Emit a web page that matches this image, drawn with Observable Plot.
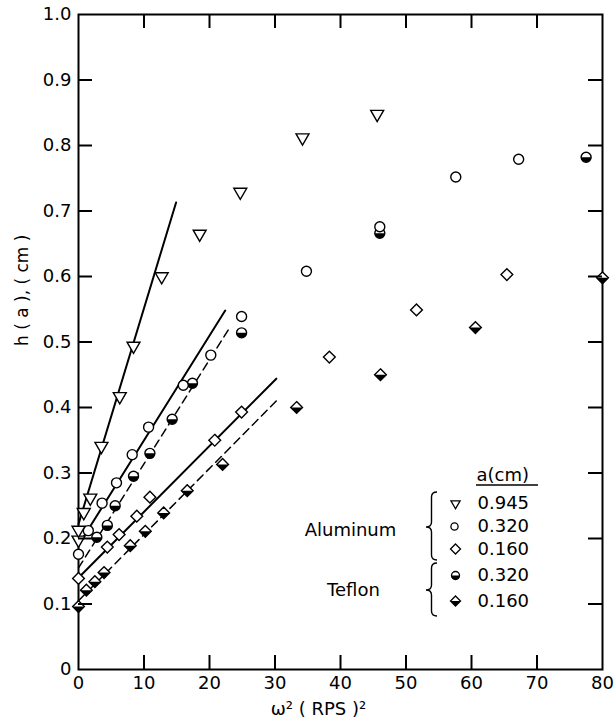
<!DOCTYPE html>
<html><head><meta charset="utf-8">
<script src="https://cdn.jsdelivr.net/npm/d3@7"></script>
<script src="https://cdn.jsdelivr.net/npm/@observablehq/plot@0.6"></script>
<style>body{margin:0;background:#fff}</style>
</head><body><div id="chart"></div>
<script>
// ---- tick values / labels ----
const xTicks = [0, 10, 20, 30, 40, 50, 60, 70, 80];
const yTicks = [0, 0.1, 0.2, 0.3, 0.4, 0.5, 0.6, 0.7, 0.8, 0.9, 1.0];
const yTickLabels = ["0", "0.1", "0.2", "0.3", "0.4", "0.5", "0.6", "0.7", "0.8", "0.9", "1.0"];
const xTitle = "ω² ( RPS )²";
const yTitle = "h ( a ), ( cm )";

// ---- data: Aluminum ----
const al945X = [0, 0, 0.8, 1.8, 3.5, 6.3, 8.4, 12.7, 18.5, 24.7, 34.2, 45.6];
const al945Y = [0.198, 0.213, 0.24, 0.262, 0.341, 0.417, 0.494, 0.600, 0.665, 0.729, 0.812, 0.848];
const al320X = [0, 1.5, 3.6, 5.8, 8.2, 10.7, 16.0, 20.2, 24.9, 34.8, 46.0, 57.6, 67.2];
const al320Y = [0.176, 0.212, 0.254, 0.285, 0.328, 0.370, 0.434, 0.480, 0.539, 0.608, 0.676, 0.752, 0.779];
const al160X = [0, 4.4, 6.2, 8.9, 10.9, 20.8, 24.9, 38.3, 51.6, 65.4];
const al160Y = [0.139, 0.187, 0.206, 0.234, 0.263, 0.350, 0.393, 0.477, 0.549, 0.603];
// ---- data: Teflon ----
const tef320X = [2.8, 4.4, 5.6, 8.4, 10.9, 14.3, 17.4, 24.9, 46.0, 77.5];
const tef320Y = [0.202, 0.220, 0.250, 0.295, 0.330, 0.382, 0.437, 0.514, 0.666, 0.782];
const tef160X = [0, 1.2, 2.5, 3.9, 7.9, 10.2, 13.0, 16.6, 22.0, 33.3, 46.1, 60.6, 80];
const tef160Y = [0.096, 0.121, 0.134, 0.148, 0.189, 0.211, 0.239, 0.273, 0.313, 0.400, 0.450, 0.522, 0.598];

// ---- fitted lines (endpoints) ----
const fitAl945X = [0, 14.9],  fitAl945Y = [0.222, 0.713];
const fitAl320X = [0, 22.4],  fitAl320Y = [0.190, 0.548];
const fitTef320X = [0, 22.9], fitTef320Y = [0.155, 0.519];
const fitAl160X = [0, 30.2],  fitAl160Y = [0.140, 0.444];
const fitTef160X = [0, 30.2], fitTef160Y = [0.105, 0.410];

// ---- legend ----
const legendTitle = "a(cm)";
const legendValues = ["0.945", "0.320", "0.160", "0.320", "0.160"];
const materials = ["Aluminum", "Teflon"];

const zip = (xs, ys) => xs.map((x, i) => ({x, y: ys[i]}));

const halfCircle = {draw(ctx, size) { const r = Math.sqrt(size / Math.PI); ctx.moveTo(r, 0); ctx.arc(0, 0, r, 0, Math.PI); ctx.closePath(); }};
const halfDiamond = {draw(ctx, size) { const r = Math.sqrt(size) * 0.62625; ctx.moveTo(-r, 0); ctx.lineTo(r, 0); ctx.lineTo(0, r); ctx.closePath(); }};

const W = 614, H = 727, mL = 78, mR = 12, mT = 14, mB = 58;
const pw = W - mL - mR, ph = H - mT - mB;
const tk = 14;
const FONT = "DejaVu Sans";
const FS = 18;
const tyLen = tk / ph;        // tick length in y data units
const txLen = tk / pw * 80;   // tick length in x data units
const innerX = xTicks.slice(1, -1), innerY = yTicks.slice(1, -1);

const triangleDown = (data, r) => Plot.dot(data, {x: "x", y: "y", symbol: "triangle", rotate: 180, r, fill: "white", stroke: "black", strokeWidth: 1.4});
const openCircle = (data, r) => Plot.dot(data, {x: "x", y: "y", symbol: "circle", r, fill: "white", stroke: "black", strokeWidth: 1.4});
const openDiamond = (data, r) => Plot.dot(data, {x: "x", y: "y", symbol: "diamond2", r, fill: "white", stroke: "black", strokeWidth: 1.4});
const halfC = (data, r) => Plot.dot(data, {x: "x", y: "y", symbol: halfCircle, r, fill: "black", stroke: "none"});
const halfD = (data, r) => Plot.dot(data, {x: "x", y: "y", symbol: halfDiamond, r, fill: "black", stroke: "none"});

// legend rows positioned in px relative to the frame's top-left corner
const legRowsDy = [489, 512, 534.5, 561, 586.5];
const legSymDx = 377, legTextDx = 399;
const legText = (t, dx, dy, anchor) => Plot.text([t], {frameAnchor: "top-left", lineAnchor: "middle", dx, dy, textAnchor: anchor, fontSize: FS});

function braces() {
  const g = d3.create("svg:g").attr("fill", "none").attr("stroke", "black").attr("stroke-width", 1.4);
  const brace = (xr, xt, y0, ym, y1) => {
    const xm = (xr + xt) / 2, r = 5;
    return `M${xr},${y0} Q${xm},${y0} ${xm},${y0 + r} L${xm},${ym - r} Q${xm},${ym} ${xt},${ym} Q${xm},${ym} ${xm},${ym + r} L${xm},${y1 - r} Q${xm},${y1} ${xr},${y1}`;
  };
  g.append("path").attr("d", brace(437, 426, 492, 527, 560));
  g.append("path").attr("d", brace(437, 426, 563, 590, 616));
  g.append("line").attr("x1", 476).attr("x2", 538).attr("y1", 485).attr("y2", 485).attr("stroke-width", 1.3);
  return g.node();
}

const chart = Plot.plot({
  width: W, height: H,
  marginLeft: mL, marginRight: mR, marginTop: mT, marginBottom: mB,
  x: {domain: [0, 80], ticks: xTicks, tickSize: 0, tickPadding: 7, label: null},
  y: {domain: [0, 1], ticks: yTicks, tickSize: 0, tickPadding: 7, label: null, tickFormat: d => yTickLabels[yTicks.indexOf(d)] ?? String(d)},
  style: {fontFamily: FONT, fontSize: FS + "px", background: "white"},
  marks: [
    Plot.frame({stroke: "black", fill: "none", strokeWidth: 2}),
    Plot.text([xTitle], {frameAnchor: "bottom", lineAnchor: "middle", dx: -22, dy: 40, fontSize: FS}),
    Plot.text([yTitle], {frameAnchor: "left", lineAnchor: "middle", rotate: -90, dx: -56, dy: 4, fontSize: 17}),
    // fitted lines
    Plot.line(zip(fitAl945X, fitAl945Y), {x: "x", y: "y", stroke: "black", strokeWidth: 2}),
    Plot.line(zip(fitAl320X, fitAl320Y), {x: "x", y: "y", stroke: "black", strokeWidth: 2}),
    Plot.line(zip(fitAl160X, fitAl160Y), {x: "x", y: "y", stroke: "black", strokeWidth: 2}),
    Plot.line(zip(fitTef320X, fitTef320Y), {x: "x", y: "y", stroke: "black", strokeWidth: 1.5, strokeDasharray: "8,5"}),
    Plot.line(zip(fitTef160X, fitTef160Y), {x: "x", y: "y", stroke: "black", strokeWidth: 1.5, strokeDasharray: "8,5"}),
    // points
    openDiamond(zip(tef160X, tef160Y), 5.3), halfD(zip(tef160X, tef160Y), 5.3),
    openDiamond(zip(al160X, al160Y), 5.3),
    openCircle(zip(tef320X, tef320Y), 5), halfC(zip(tef320X, tef320Y), 5),
    openCircle(zip(al320X, al320Y), 5),
    triangleDown(zip(al945X, al945Y), 4.8),
    // legend
    legText(legendTitle, 398, 461, "start"),
    Plot.dot([0], {frameAnchor: "top-left", dx: legSymDx, dy: legRowsDy[0], symbol: "triangle", rotate: 180, r: 3.4, fill: "white", stroke: "black", strokeWidth: 1.3}),
    Plot.dot([0], {frameAnchor: "top-left", dx: legSymDx - 1, dy: legRowsDy[1], symbol: "circle", r: 3.6, fill: "white", stroke: "black", strokeWidth: 1.3}),
    Plot.dot([0], {frameAnchor: "top-left", dx: legSymDx, dy: legRowsDy[2], symbol: "diamond2", r: 4.5, fill: "white", stroke: "black", strokeWidth: 1.3}),
    Plot.dot([0], {frameAnchor: "top-left", dx: legSymDx, dy: legRowsDy[3], symbol: "circle", r: 4, fill: "white", stroke: "black", strokeWidth: 1.3}),
    Plot.dot([0], {frameAnchor: "top-left", dx: legSymDx, dy: legRowsDy[3], symbol: halfCircle, r: 4, fill: "black"}),
    Plot.dot([0], {frameAnchor: "top-left", dx: legSymDx, dy: legRowsDy[4], symbol: "diamond2", r: 4.5, fill: "white", stroke: "black", strokeWidth: 1.3}),
    Plot.dot([0], {frameAnchor: "top-left", dx: legSymDx, dy: legRowsDy[4], symbol: halfDiamond, r: 4.5, fill: "black"}),
    ...legendValues.map((v, i) => legText(v, legTextDx, legRowsDy[i], "start")),
    legText(materials[0], 272, 516, "middle"),
    legText(materials[1], 275, 576, "middle"),
    braces,
    // inward ticks on all four sides (drawn last, on top)
    Plot.ruleX(innerX, {x: d => d, y1: d => 0, y2: d => tyLen, stroke: "black", strokeWidth: 2}),
    Plot.ruleX(innerX, {x: d => d, y1: d => 1 - tyLen, y2: d => 1, stroke: "black", strokeWidth: 2}),
    Plot.ruleY(innerY, {y: d => d, x1: d => 0, x2: d => txLen, stroke: "black", strokeWidth: 2}),
    Plot.ruleY(innerY, {y: d => d, x1: d => 80 - txLen, x2: d => 80, stroke: "black", strokeWidth: 2})
  ]
});
document.getElementById("chart").append(chart);
</script>
</body></html>
